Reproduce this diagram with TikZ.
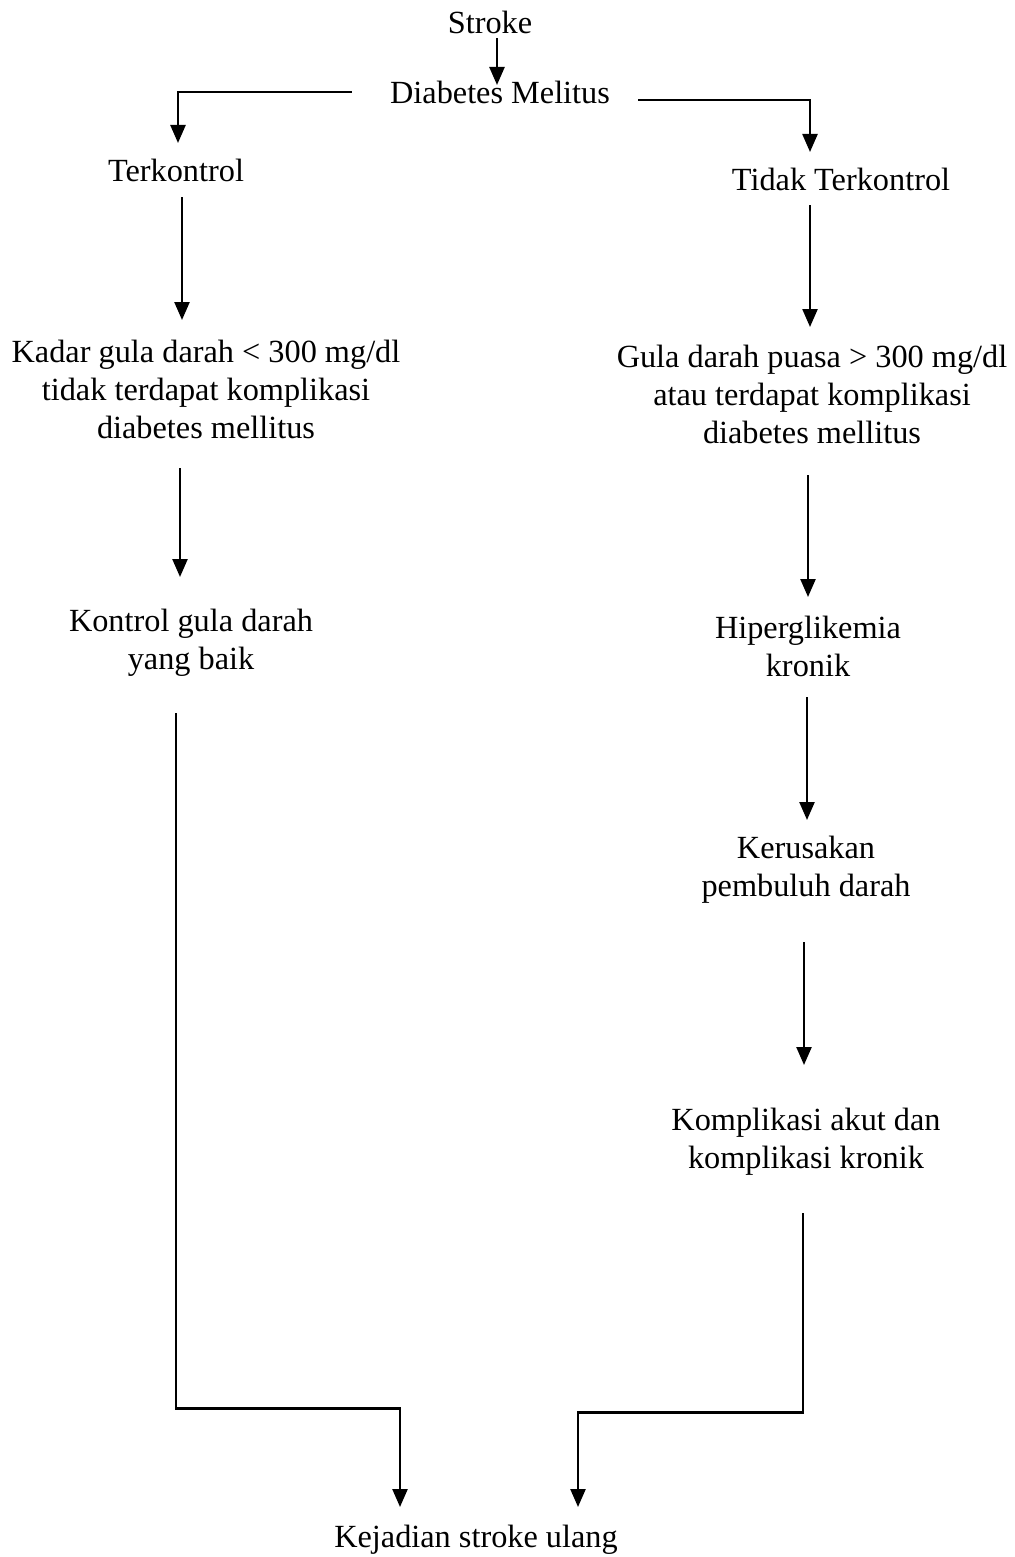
\documentclass[tikz,border=0pt]{standalone}
\usepackage{fontspec}
\setmainfont{Liberation Serif}
\usetikzlibrary{arrows.meta}
\newcommand\mystrut{\rule[-9pt]{0pt}{33pt}}
\begin{document}
\begin{tikzpicture}[x=1pt,y=-1pt,
  lbl/.style={anchor=north,inner sep=0pt,align=center,font=\fontsize{32.3}{38}\selectfont},
  arr/.style={line width=2.4pt,-{Triangle[length=18pt,width=15pt]}}]
\useasboundingbox[fill=white] (0,0) rectangle (1014,1557);

\node[lbl] (stroke) at (490,9) {\mystrut Stroke};
\node[lbl] (dm) at (500,79) {\mystrut Diabetes Melitus};
\node[lbl] (terk) at (176,157) {\mystrut Terkontrol};
\node[lbl] (tidak) at (841,166) {\mystrut Tidak Terkontrol};
\node[lbl] (kadar) at (206,338) {\mystrut Kadar gula darah < 300 mg/dl\\tidak terdapat komplikasi\\diabetes mellitus\mystrut};
\node[lbl] (gula) at (812,343) {\mystrut Gula darah puasa > 300 mg/dl\\atau terdapat komplikasi\\diabetes mellitus\mystrut};
\node[lbl] (kontrol) at (191,607) {\mystrut Kontrol gula darah\\yang baik\mystrut};
\node[lbl] (hiper) at (808,614) {\mystrut Hiperglikemia\\kronik\mystrut};
\node[lbl] (kerus) at (806,834) {\mystrut Kerusakan\\pembuluh darah\mystrut};
\node[lbl] (kompl) at (806,1106) {\mystrut Komplikasi akut dan\\komplikasi kronik\mystrut};
\node[lbl] (kej) at (476,1523) {\mystrut Kejadian stroke ulang};

\draw[arr,shorten <=-4pt,shorten >=-6pt] ([xshift=7pt]stroke.south) -- ([xshift=-3pt]dm.north);
\draw[arr,shorten >=14pt] ([xshift=-38pt,yshift=3.5pt]dm.west) -| ([xshift=2pt]terk.north);
\draw[arr,shorten >=14pt] ([xshift=28pt,yshift=-4.5pt]dm.east) -| ([xshift=-31pt]tidak.north);
\draw[arr,shorten <=7pt,shorten >=18pt] ([xshift=6pt]terk.south) -- ([xshift=-24pt]kadar.north);
\draw[arr,shorten <=6pt,shorten >=16pt] ([xshift=-31pt]tidak.south) -- ([xshift=-2pt]gula.north);
\draw[arr,shorten <=21pt,shorten >=30pt] ([xshift=-26pt]kadar.south) -- ([xshift=-11pt]kontrol.north);
\draw[arr,shorten <=23pt,shorten >=17pt] ([xshift=-4pt]gula.south) -- (hiper.north);
\draw[arr,shorten <=12pt,shorten >=14pt] ([xshift=-1pt]hiper.south) -- ([xshift=1pt]kerus.north);
\draw[arr,shorten <=37pt,shorten >=41pt] ([xshift=-2pt]kerus.south) -- ([xshift=-2pt]kompl.north);
\draw[arr,shorten <=35pt,shorten >=16pt] ([xshift=-15pt]kontrol.south) -- ++(0,730) -| ([xshift=-76pt]kej.north);
\draw[arr,shorten <=36pt,shorten >=16pt] ([xshift=-3pt]kompl.south) -- ++(0,235) -| ([xshift=102pt]kej.north);
\end{tikzpicture}
\end{document}
